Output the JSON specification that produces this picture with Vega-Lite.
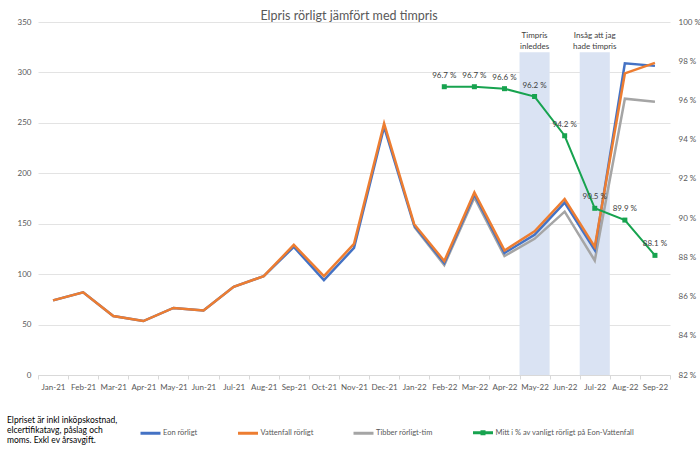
{
  "$schema": "https://vega.github.io/schema/vega-lite/v6.json",
  "autosize": "none",
  "width": 632,
  "height": 353,
  "padding": {"left": 38, "top": 22, "right": 30, "bottom": 82},
  "background": "white",
  "config": {
    "view": {"stroke": null},
    "font": "Lato",
    "axis": {"labelColor": "#595959", "labelFontSize": 8, "labelFont": "Lato", "titleColor": "#595959"},
    "legend": {"labelFont": "Lato", "titleFont": "Lato"}
  },
  "title": {
    "text": "Elpris rörligt jämfört med timpris",
    "fontSize": 12.5,
    "fontWeight": "normal",
    "color": "#595959",
    "anchor": "middle",
    "frame": "group",
    "offset": 2,
    "dy": 6,
    "dx": -5
  },
  "datasets": {
    "prices": [
      {"m": "Jan-22", "s": "Tibber rörligt-tim", "v": 147},
      {"m": "Feb-22", "s": "Tibber rörligt-tim", "v": 109},
      {"m": "Mar-22", "s": "Tibber rörligt-tim", "v": 176},
      {"m": "Apr-22", "s": "Tibber rörligt-tim", "v": 118},
      {"m": "May-22", "s": "Tibber rörligt-tim", "v": 135},
      {"m": "Jun-22", "s": "Tibber rörligt-tim", "v": 162},
      {"m": "Jul-22", "s": "Tibber rörligt-tim", "v": 113.5},
      {"m": "Aug-22", "s": "Tibber rörligt-tim", "v": 274},
      {"m": "Sep-22", "s": "Tibber rörligt-tim", "v": 271},
      {"m": "Jan-21", "s": "Eon rörligt", "v": 74},
      {"m": "Feb-21", "s": "Eon rörligt", "v": 82},
      {"m": "Mar-21", "s": "Eon rörligt", "v": 58.5},
      {"m": "Apr-21", "s": "Eon rörligt", "v": 53.5},
      {"m": "May-21", "s": "Eon rörligt", "v": 66.5},
      {"m": "Jun-21", "s": "Eon rörligt", "v": 64},
      {"m": "Jul-21", "s": "Eon rörligt", "v": 87.5},
      {"m": "Aug-21", "s": "Eon rörligt", "v": 98},
      {"m": "Sep-21", "s": "Eon rörligt", "v": 127},
      {"m": "Oct-21", "s": "Eon rörligt", "v": 94},
      {"m": "Nov-21", "s": "Eon rörligt", "v": 126},
      {"m": "Dec-21", "s": "Eon rörligt", "v": 246},
      {"m": "Jan-22", "s": "Eon rörligt", "v": 148},
      {"m": "Feb-22", "s": "Eon rörligt", "v": 111},
      {"m": "Mar-22", "s": "Eon rörligt", "v": 179},
      {"m": "Apr-22", "s": "Eon rörligt", "v": 121},
      {"m": "May-22", "s": "Eon rörligt", "v": 139},
      {"m": "Jun-22", "s": "Eon rörligt", "v": 171},
      {"m": "Jul-22", "s": "Eon rörligt", "v": 124},
      {"m": "Aug-22", "s": "Eon rörligt", "v": 309},
      {"m": "Sep-22", "s": "Eon rörligt", "v": 306.5},
      {"m": "Jan-21", "s": "Vattenfall rörligt", "v": 74},
      {"m": "Feb-21", "s": "Vattenfall rörligt", "v": 82},
      {"m": "Mar-21", "s": "Vattenfall rörligt", "v": 58.5},
      {"m": "Apr-21", "s": "Vattenfall rörligt", "v": 53.5},
      {"m": "May-21", "s": "Vattenfall rörligt", "v": 66.5},
      {"m": "Jun-21", "s": "Vattenfall rörligt", "v": 64},
      {"m": "Jul-21", "s": "Vattenfall rörligt", "v": 87.5},
      {"m": "Aug-21", "s": "Vattenfall rörligt", "v": 98},
      {"m": "Sep-21", "s": "Vattenfall rörligt", "v": 129},
      {"m": "Oct-21", "s": "Vattenfall rörligt", "v": 98},
      {"m": "Nov-21", "s": "Vattenfall rörligt", "v": 130},
      {"m": "Dec-21", "s": "Vattenfall rörligt", "v": 249.5},
      {"m": "Jan-22", "s": "Vattenfall rörligt", "v": 149.5},
      {"m": "Feb-22", "s": "Vattenfall rörligt", "v": 113},
      {"m": "Mar-22", "s": "Vattenfall rörligt", "v": 181},
      {"m": "Apr-22", "s": "Vattenfall rörligt", "v": 123.5},
      {"m": "May-22", "s": "Vattenfall rörligt", "v": 142.5},
      {"m": "Jun-22", "s": "Vattenfall rörligt", "v": 174.5},
      {"m": "Jul-22", "s": "Vattenfall rörligt", "v": 127},
      {"m": "Aug-22", "s": "Vattenfall rörligt", "v": 299},
      {"m": "Sep-22", "s": "Vattenfall rörligt", "v": 309.5}
    ],
    "pct": [
      {"m": "Feb-22", "p": 96.7},
      {"m": "Mar-22", "p": 96.7},
      {"m": "Apr-22", "p": 96.6},
      {"m": "May-22", "p": 96.2},
      {"m": "Jun-22", "p": 94.2},
      {"m": "Jul-22", "p": 90.5},
      {"m": "Aug-22", "p": 89.9},
      {"m": "Sep-22", "p": 88.1}
    ],
    "bands": [
      {"m": "May-22", "top": 320, "note": "Timpris\ninleddes"},
      {"m": "Jul-22", "top": 320, "note": "Insåg att jag\nhade timpris"}
    ]
  },
  "encoding": {
    "x": {
      "field": "m",
      "type": "nominal",
      "sort": null,
      "scale": {
        "domain": ["Jan-21","Feb-21","Mar-21","Apr-21","May-21","Jun-21","Jul-21","Aug-21","Sep-21","Oct-21","Nov-21","Dec-21","Jan-22","Feb-22","Mar-22","Apr-22","May-22","Jun-22","Jul-22","Aug-22","Sep-22"],
        "paddingInner": 0,
        "paddingOuter": 0
      },
      "axis": {
        "title": null,
        "labelAngle": 0,
        "domainColor": "#d9d9d9",
        "tickColor": "#d9d9d9",
        "tickSize": 4,
        "tickBand": "extent",
        "labelPadding": 4,
        "grid": false
      }
    }
  },
  "layer": [
    {
      "encoding": {
        "y": {
          "type": "quantitative",
          "scale": {"domain": [0, 350], "nice": false},
          "axis": {
            "title": null,
            "values": [0, 50, 100, 150, 200, 250, 300, 350],
            "domain": false,
            "ticks": false,
            "labelPadding": 7,
            "grid": true,
            "gridColor": "#e3e3e3",
            "gridWidth": 1
          }
        }
      },
      "layer": [
        {
          "data": {"name": "bands"},
          "mark": {"type": "bar", "color": "#DAE3F3"},
          "encoding": {"y": {"field": "top", "type": "quantitative"}}
        },
        {
          "data": {"name": "bands"},
          "mark": {"type": "text", "baseline": "bottom", "dy": -12, "fontSize": 8, "color": "#404040", "lineBreak": "\n", "lineHeight": 10.5},
          "encoding": {
            "y": {"field": "top", "type": "quantitative"},
            "text": {"field": "note"}
          }
        },
        {
          "data": {"name": "prices"},
          "mark": {"type": "line", "strokeWidth": 2.5},
          "encoding": {
            "y": {"field": "v", "type": "quantitative"},
            "color": {
              "field": "s",
              "type": "nominal",
              "scale": {
                "domain": ["Eon rörligt", "Vattenfall rörligt", "Tibber rörligt-tim", "Mitt i % av vanligt rörligt på Eon-Vattenfall"],
                "range": ["#4472C4", "#ED7D31", "#A5A5A5", "#17A34F"]
              },
              "legend": {
                "orient": "none",
                "direction": "horizontal",
                "legendX": -31,
                "legendY": 399,
                "title": ["Elpriset är inkl inköpskostnad,", "elcertifikatavg, påslag och", "moms. Exkl ev årsavgift."],
                "titleOrient": "left",
                "titleAnchor": "middle",
                "titleFontWeight": "normal",
                "titleFontSize": 8.5,
                "titleLineHeight": 10,
                "titleColor": "#000000",
                "titlePadding": 21,
                "titleLimit": 300,
                "symbolType": "stroke",
                "symbolSize": 400,
                "symbolStrokeWidth": 3,
                "labelFontSize": 7.5,
                "labelColor": "#595959",
                "labelOffset": 1,
                "columnPadding": 33.5,
                "labelLimit": 400,
                "encode": {
                  "symbols": {
                    "update": {
                      "shape": {"signal": "datum.index === 3 ? 'M-1,0H1M-0.1,-0.1H0.1V0.1H-0.1Z' : 'stroke'"},
                      "fill": {"signal": "datum.index === 3 ? '#17A34F' : 'transparent'"}
                    }
                  }
                }
              }
            }
          }
        }
      ]
    },
    {
      "data": {"name": "pct"},
      "encoding": {
        "y": {
          "field": "p",
          "type": "quantitative",
          "scale": {"domain": [82, 100], "nice": false, "zero": false},
          "axis": {
            "orient": "right",
            "title": null,
            "values": [82, 84, 86, 88, 90, 92, 94, 96, 98, 100],
            "labelExpr": "datum.value + ' %'",
            "domain": false,
            "ticks": false,
            "grid": false,
            "labelPadding": 8
          }
        }
      },
      "layer": [
        {
          "mark": {"type": "line", "strokeWidth": 2},
          "encoding": {"color": {"datum": "Mitt i % av vanligt rörligt på Eon-Vattenfall"}}
        },
        {
          "mark": {"type": "point", "shape": "square", "filled": true, "opacity": 1, "size": 25, "color": "#17A34F"}
        },
        {
          "transform": [{"calculate": "format(datum.p, '.1f') + ' %'", "as": "lbl"}],
          "mark": {"type": "text", "dy": -11, "fontSize": 8, "color": "#404040"},
          "encoding": {"text": {"field": "lbl"}}
        }
      ]
    }
  ],
  "resolve": {"scale": {"y": "independent"}}
}
